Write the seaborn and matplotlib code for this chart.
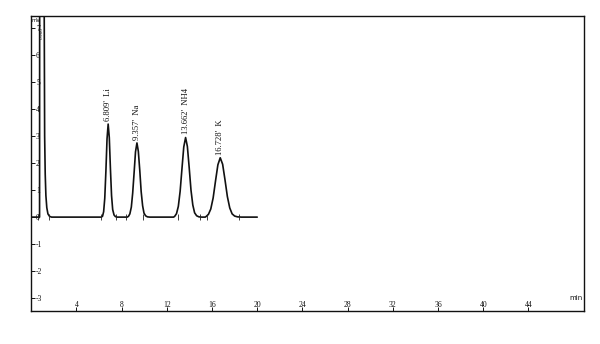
import matplotlib
matplotlib.use("Agg")
import matplotlib.pyplot as plt
import seaborn as sns
import pandas as pd

# Chromatogram trace (time in min, signal)
time = [0.0, 0.65, 0.74, 0.75, 1.14, 1.19, 1.24, 1.30, 1.38, 1.48, 1.62, 1.8,
        6.2, 6.31, 6.41, 6.51, 6.61, 6.71, 6.81, 6.91, 7.01, 7.11, 7.21, 7.33, 7.45, 7.6,
        8.5, 8.61, 8.73, 8.86, 8.98, 9.11, 9.23, 9.357, 9.48, 9.61, 9.73, 9.86, 9.98, 10.12, 10.28, 10.5,
        12.6, 12.7, 12.86, 13.02, 13.18, 13.34, 13.5, 13.662, 13.82, 13.98, 14.14, 14.30, 14.46, 14.64, 14.84, 15.1,
        15.4, 15.47, 15.68, 15.89, 16.1, 16.31, 16.52, 16.728, 16.94, 17.15, 17.36, 17.57, 17.78, 18.0, 18.25, 18.6,
        20.0]
signal = [0.0, 0.0, 0.0, 9.0, 9.0, 3.0, 1.6, 0.8, 0.35, 0.12, 0.03, 0.0,
          0.0, 0.03, 0.2, 0.7, 1.7, 2.9, 3.45, 2.95, 1.8, 0.8, 0.28, 0.08, 0.02, 0.0,
          0.0, 0.03, 0.12, 0.37, 0.89, 1.67, 2.42, 2.75, 2.44, 1.72, 0.95, 0.42, 0.15, 0.05, 0.01, 0.0,
          0.0, 0.03, 0.13, 0.40, 0.96, 1.79, 2.6, 2.95, 2.62, 1.84, 1.0, 0.45, 0.16, 0.05, 0.01, 0.0,
          0.0, 0.02, 0.10, 0.30, 0.71, 1.34, 1.94, 2.2, 1.96, 1.38, 0.76, 0.34, 0.12, 0.04, 0.01, 0.0,
          0.0]

# Peak annotations
peak_times = [6.809, 9.357, 13.662, 16.728]
peak_heights = [3.45, 2.75, 2.95, 2.2]
peak_labels = ["6.809'  Li", "9.357'  Na", "13.662'  NH4", "16.728'  K"]

# Integration markers on baseline
marker_times = [0.6, 1.6, 6.2, 7.5, 8.4, 9.9, 13.0, 14.9, 15.6, 18.4]

x_ticks = [4, 8, 12, 16, 20, 24, 28, 32, 36, 40, 44]
y_ticks = [-3, -2, -1, 0, 1, 2, 3, 4, 5, 6, 7]

sns.set_style("white")
plt.rcParams['font.family'] = ['Liberation Serif', 'DejaVu Serif']

fig = plt.figure(figsize=(6.0, 3.44), dpi=100)
ax = fig.add_axes([0.052, 0.096, 0.921, 0.857])

df = pd.DataFrame({"time": time, "signal": signal})
sns.lineplot(data=df, x="time", y="signal", ax=ax, color="#111111",
             linewidth=1.2, sort=False, estimator=None)

ax.vlines(marker_times, -0.12, 0.12, color="#222222", linewidth=0.6)

for t, h, lab in zip(peak_times, peak_heights, peak_labels):
    ax.text(t, h + 0.12, lab, rotation=90, ha="center", va="bottom",
            fontsize=6.2, color="#111111")
ax.text(0.95, 6.6, "0.960'", rotation=90, ha="center", va="bottom",
        fontsize=3.8, color="#111111")
ax.text(0.05, 7.3, "mV", fontsize=3.8, color="#111111", ha="left", va="center",
        family="DejaVu Sans")

ax.set_xlim(0, 48.9)
ax.set_ylim(-3.48, 7.45)
ax.set_xticks(x_ticks)
ax.set_yticks(y_ticks)
ax.set_xticklabels([str(v) for v in x_ticks])
ax.set_yticklabels([str(v) for v in y_ticks])
ax.tick_params(axis="x", direction="in", length=3, width=0.7, pad=-7.5,
               labelsize=5.5, bottom=True, colors="#111111")
ax.tick_params(axis="y", direction="in", length=3, width=0.7, pad=-3.5,
               labelsize=5.5, left=True, colors="#111111")
for lbl in ax.get_yticklabels():
    lbl.set_horizontalalignment("left")
ax.set_xlabel("")
ax.set_ylabel("")
ax.text(48.2, -3.0, "min", fontsize=5, ha="center", va="center",
        family="DejaVu Sans", color="#111111")

for s in ax.spines.values():
    s.set_color("#111111")
    s.set_linewidth(1.0)
    s.set_visible(True)

fig.savefig("out.png", dpi=100, facecolor="white")
